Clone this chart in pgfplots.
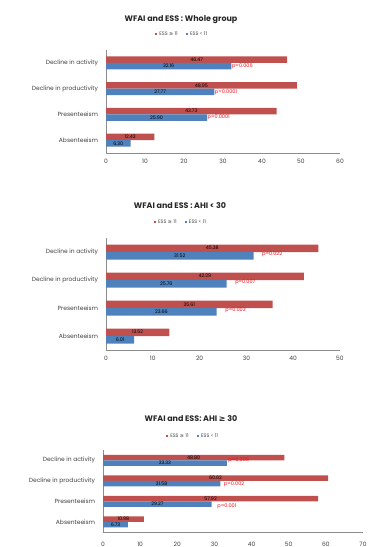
\documentclass[border=0pt]{standalone}
\usepackage{fontspec}
\setmainfont{Poppins}
\newfontfamily\symfont{DejaVu Sans}
\usepackage{pgfplots}
\pgfplotsset{compat=1.18}
\definecolor{xred}{HTML}{C0504D}
\definecolor{xblue}{HTML}{4F81BD}
\definecolor{axgray}{HTML}{8C8C8C}
\definecolor{pred}{HTML}{E8101A}
\tikzset{pval/.style={anchor=west, text=pred, font=\fontsize{5}{6}\selectfont, inner sep=0.5pt}}
\pgfplotsset{
 mybar/.style={
  xbar, scale only axis, anchor=north west,
  axis x line*=bottom, axis y line*=left,
  axis line style={axgray, line width=0.6pt},
  ytick={0,1,2,3},
  yticklabels={Absenteeism, Presenteeism, Decline in productivity, Decline in activity},
  ymin=-0.5, ymax=3.5, xmin=0,
  major tick length=0pt,
  tick label style={font=\fontsize{6}{7}\selectfont, color=black!75},
  yticklabel style={xshift=-4.5pt},
  xticklabel style={yshift=-2.5pt},
  /pgf/number format/assume math mode=true,
  legend style={draw=none, fill=none, legend columns=2, font=\fontsize{5}{6}\selectfont, anchor=center,
    text=black!75, /tikz/every even column/.append style={column sep=6pt}},
  legend image code/.code={\fill[#1] (0pt,-1.2pt) rectangle (2.4pt,1.2pt);},
  nodes near coords={\pgfmathprintnumber[fixed,precision=2,fixed zerofill]{\pgfplotspointmeta}},
  point meta=x,
  nodes near coords style={font=\fontsize{4.8}{5}\selectfont, black, anchor=center, inner sep=0pt},
  visualization depends on=x \as \rawx,
  every node near coord/.append style={shift={(axis direction cs:-\rawx/2,0)}},
  clip=false,
 },
}
\begin{document}
\begin{tikzpicture}
\useasboundingbox (0,0) rectangle (371bp,-547bp);
% ---------------- Panel 1
\node[font=\bfseries\fontsize{8}{9}\selectfont, text=black!85] at (181bp,-20bp) {WFAI and ESS : Whole group};
\begin{axis}[mybar, at={(106bp,-50bp)}, width=234bp, height=103bp,
  xmax=60, xtick={0,10,...,60},
  legend style={at={(0.325,1.155)}}]
\addplot[fill=xred, draw=none, bar width=6.5bp, bar shift=3.25bp] coordinates {(12.43,0) (43.73,1) (48.95,2) (46.47,3)};
\addlegendentry{ESS {\symfont ≥} 11}
\addplot[fill=xblue, draw=none, bar width=6.5bp, bar shift=-3.25bp] coordinates {(6.30,0) (25.90,1) (27.77,2) (32.16,3)};
\addlegendentry{ESS < 11}
\node[pval, yshift=-3.25bp] at (axis cs:32.16,3) {p=0.006};
\node[pval, yshift=-3.25bp] at (axis cs:27.77,2) {p=0.0001};
\node[pval, yshift=-3.25bp] at (axis cs:25.90,1) {p=0.0001};
\end{axis}
% ---------------- Panel 2
\node[font=\bfseries\fontsize{8}{9}\selectfont, text=black!85] at (180bp,-206bp) {WFAI and ESS : AHI < 30};
\begin{axis}[mybar, at={(106bp,-238bp)}, width=234bp, height=112bp,
  xmax=50, xtick={0,10,...,50},
  legend style={at={(0.32,1.143)}}]
\addplot[fill=xred, draw=none, bar width=7.5bp, bar shift=3.75bp] coordinates {(13.52,0) (35.61,1) (42.29,2) (45.38,3)};
\addlegendentry{ESS {\symfont ≥} 11}
\addplot[fill=xblue, draw=none, bar width=7.5bp, bar shift=-3.75bp] coordinates {(6.01,0) (23.66,1) (25.76,2) (31.52,3)};
\addlegendentry{ESS < 11}
\node[pval, xshift=8bp, yshift=-2bp] at (axis cs:31.52,3) {p=0.022};
\node[pval, xshift=8bp, yshift=-2bp] at (axis cs:25.76,2) {p=0.007};
\node[pval, xshift=8bp, yshift=-2bp] at (axis cs:23.66,1) {p=0.003};
\end{axis}
% ---------------- Panel 3
\node[font=\bfseries\fontsize{8}{9}\selectfont, text=black!85] at (191bp,-419bp) {WFAI and ESS: AHI {\symfont ≥} 30};
\begin{axis}[mybar, at={(103bp,-450bp)}, width=260bp, height=82bp,
  xmax=70, xtick={0,10,...,70},
  xticklabel style={yshift=-4pt},
  legend style={at={(0.346,1.17)}}]
\addplot[fill=xred, draw=none, bar width=5.5bp, bar shift=2.75bp] coordinates {(10.98,0) (57.92,1) (60.62,2) (48.80,3)};
\addlegendentry{ESS {\symfont ≥} 11}
\addplot[fill=xblue, draw=none, bar width=5.5bp, bar shift=-2.75bp] coordinates {(6.73,0) (29.27,1) (31.58,2) (33.33,3)};
\addlegendentry{ESS < 11}
\node[pval, xshift=1bp, yshift=0bp] at (axis cs:33.33,3) {p=0.009};
\node[pval, xshift=3bp, yshift=-4bp] at (axis cs:31.58,2) {p=0.002};
\node[pval, xshift=5bp, yshift=-5bp] at (axis cs:29.27,1) {p=0.001};
\end{axis}
\end{tikzpicture}
\end{document}
